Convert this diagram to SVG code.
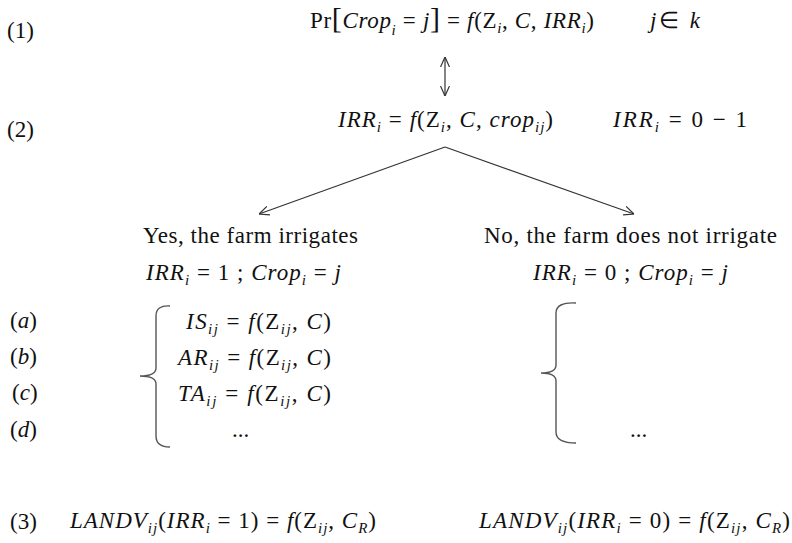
<svg xmlns="http://www.w3.org/2000/svg" width="792" height="543" viewBox="0 0 792 543">
<style>
text{font-family:"Liberation Serif","Times New Roman",serif;font-size:23px;fill:#111}
.m{font-style:italic}
.s{font-size:15px;font-style:italic}
.br{font-size:30px;font-style:normal}
.ln{stroke:#333;stroke-width:1.2;fill:none}
.brace{stroke:#555;stroke-width:1.4;fill:none}
</style>
<defs>
<marker id="arr" viewBox="0 0 10 10" refX="10" refY="5" markerWidth="10" markerHeight="10" markerUnits="userSpaceOnUse" orient="auto-start-reverse">
<path d="M0,0.5 L10,5 L0,9.5" fill="none" stroke="#333" stroke-width="1.2"/>
</marker>
</defs>
<g id="connectors">
<line class="ln" x1="445" y1="57" x2="445" y2="96" marker-start="url(#arr)" marker-end="url(#arr)"/>
<polyline class="ln" points="259,214 445,147" marker-start="url(#arr)"/>
<polyline class="ln" points="445,147 634,214" marker-end="url(#arr)"/>
</g>
<g id="row1">
<text x="7" y="38">(1)</text>
<text x="310" y="28" textLength="284">Pr<tspan class="br">[</tspan><tspan class="m">Crop</tspan><tspan class="s" dy="7">i</tspan><tspan dy="-7"> = </tspan><tspan class="m">j</tspan><tspan class="br">]</tspan> = <tspan class="m">f</tspan>(Z<tspan class="s" dy="5">i</tspan><tspan dy="-5">, </tspan><tspan class="m">C</tspan>, <tspan class="m">IRR</tspan><tspan class="s" dy="5">i</tspan><tspan dy="-5">)</tspan></text>
<text x="650" y="28" textLength="50"><tspan class="m">j</tspan>∈ <tspan class="m">k</tspan></text>
</g>
<g id="row2">
<text x="7" y="137">(2)</text>
<text x="338" y="127" textLength="215"><tspan class="m">IRR</tspan><tspan class="s" dy="5">i</tspan><tspan dy="-5"> = </tspan><tspan class="m">f</tspan>(Z<tspan class="s" dy="5">i</tspan><tspan dy="-5">, </tspan><tspan class="m">C</tspan>, <tspan class="m">crop</tspan><tspan class="s" dy="5">ij</tspan><tspan dy="-5">)</tspan></text>
<text x="613" y="127" textLength="134"><tspan class="m">IRR</tspan><tspan class="s" dy="5">i</tspan><tspan dy="-5"> = 0 − 1</tspan></text>
</g>
<g id="yes">
<text x="143" y="243" textLength="215">Yes, the farm irrigates</text>
<text x="146" y="280" textLength="195"><tspan class="m">IRR</tspan><tspan class="s" dy="5">i</tspan><tspan dy="-5"> = 1 ; </tspan><tspan class="m">Crop</tspan><tspan class="s" dy="5">i</tspan><tspan dy="-5"> = </tspan><tspan class="m">j</tspan></text>
</g>
<g id="no">
<text x="484" y="243" textLength="293">No, the farm does not irrigate</text>
<text x="533" y="280" textLength="195"><tspan class="m">IRR</tspan><tspan class="s" dy="5">i</tspan><tspan dy="-5"> = 0 ; </tspan><tspan class="m">Crop</tspan><tspan class="s" dy="5">i</tspan><tspan dy="-5"> = </tspan><tspan class="m">j</tspan></text>
</g>
<g id="labels">
<text x="10" y="328">(<tspan class="m">a</tspan>)</text>
<text x="10" y="364">(<tspan class="m">b</tspan>)</text>
<text x="12" y="400">(<tspan class="m">c</tspan>)</text>
<text x="10" y="437">(<tspan class="m">d</tspan>)</text>
</g>
<g id="left-block">
<path class="brace" d="M170,306 Q156,305 156,316 L156,368 Q156,376 140,376 Q156,376 156,384 L156,436 Q156,447 170,447"/>
<text x="186" y="329" textLength="145"><tspan class="m">IS</tspan><tspan class="s" dy="5">ij</tspan><tspan dy="-5"> = </tspan><tspan class="m">f</tspan>(Z<tspan class="s" dy="5">ij</tspan><tspan dy="-5">, </tspan><tspan class="m">C</tspan>)</text>
<text x="178" y="365" textLength="153"><tspan class="m">AR</tspan><tspan class="s" dy="5">ij</tspan><tspan dy="-5"> = </tspan><tspan class="m">f</tspan>(Z<tspan class="s" dy="5">ij</tspan><tspan dy="-5">, </tspan><tspan class="m">C</tspan>)</text>
<text x="178" y="401" textLength="153"><tspan class="m">TA</tspan><tspan class="s" dy="5">ij</tspan><tspan dy="-5"> = </tspan><tspan class="m">f</tspan>(Z<tspan class="s" dy="5">ij</tspan><tspan dy="-5">, </tspan><tspan class="m">C</tspan>)</text>
<text x="232" y="437">...</text>
</g>
<g id="right-block">
<path class="brace" d="M576,303 Q556,302 556,313 L556,365 Q556,373 541,373 Q556,373 556,381 L556,432 Q556,443 576,443"/>
<text x="630" y="437">...</text>
</g>
<g id="row3">
<text x="10" y="529">(3)</text>
<text x="70" y="528" textLength="306"><tspan class="m">LANDV</tspan><tspan class="s" dy="5">ij</tspan><tspan dy="-5">(</tspan><tspan class="m">IRR</tspan><tspan class="s" dy="5">i</tspan><tspan dy="-5"> = 1) = </tspan><tspan class="m">f</tspan>(Z<tspan class="s" dy="5">ij</tspan><tspan dy="-5">, </tspan><tspan class="m">C</tspan><tspan class="s" dy="5">R</tspan><tspan dy="-5">)</tspan></text>
<text x="479" y="528" textLength="311"><tspan class="m">LANDV</tspan><tspan class="s" dy="5">ij</tspan><tspan dy="-5">(</tspan><tspan class="m">IRR</tspan><tspan class="s" dy="5">i</tspan><tspan dy="-5"> = 0) = </tspan><tspan class="m">f</tspan>(Z<tspan class="s" dy="5">ij</tspan><tspan dy="-5">, </tspan><tspan class="m">C</tspan><tspan class="s" dy="5">R</tspan><tspan dy="-5">)</tspan></text>
</g>
</svg>
